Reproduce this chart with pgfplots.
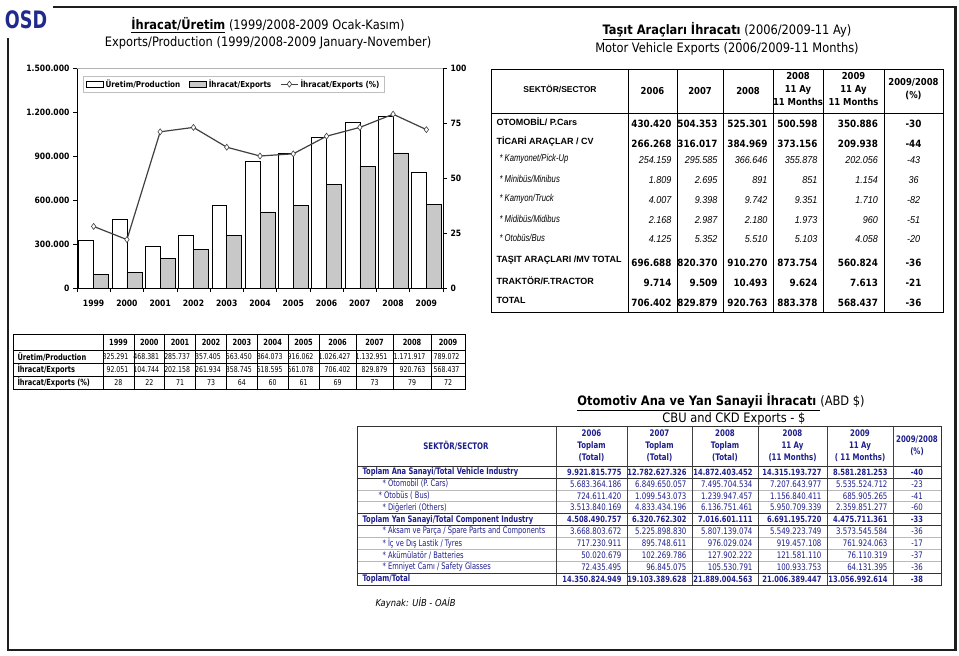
\documentclass[border=0pt]{standalone}
\usepackage{fontspec}
\usepackage{graphicx}
\usepackage{pgfplots}
\pgfplotsset{compat=1.18}
\setmainfont{DejaVu Sans}
\newfontfamily\tah[FakeStretch=0.88]{DejaVu Sans}
\newfontfamily\tahn[FakeStretch=0.78]{DejaVu Sans}
\newfontfamily\tahl[FakeStretch=0.745]{DejaVu Sans}
\newfontfamily\ari{Liberation Sans}
\newfontfamily\arin[FakeStretch=0.77]{Liberation Sans}
\newfontfamily\arii[FakeStretch=0.9]{Liberation Sans}
\definecolor{barg}{RGB}{200,200,200}
\definecolor{linec}{RGB}{64,64,64}
\definecolor{navy}{RGB}{30,30,140}
\definecolor{logob}{RGB}{30,42,140}
\definecolor{framec}{RGB}{30,30,30}

% top right table rows
\newcommand\tbold[8]{%
  \node[anchor=west,font=\ari\bfseries\fontsize{9}{10}\selectfont] at (493,#1-1.5) {#2};
  \node[anchor=east,font=\tah\bfseries\fontsize{10}{12}\selectfont] at (675,#1+0.5) {#3};
  \node[anchor=east,font=\tah\bfseries\fontsize{10}{12}\selectfont] at (721,#1+0.5) {#4};
  \node[anchor=east,font=\tah\bfseries\fontsize{10}{12}\selectfont] at (771,#1+0.5) {#5};
  \node[anchor=east,font=\tah\bfseries\fontsize{10}{12}\selectfont] at (821,#1+0.5) {#6};
  \node[anchor=east,font=\tah\bfseries\fontsize{10}{12}\selectfont] at (881.5,#1+0.5) {#7};
  \node[font=\tah\bfseries\fontsize{10}{12}\selectfont] at (913.5,#1+0.5) {#8};}
\newcommand\tital[8]{%
  \node[anchor=west,font=\arin\itshape\fontsize{10}{11}\selectfont] at (496,#1-4) {#2};
  \node[anchor=east,font=\arii\itshape\fontsize{10}{11}\selectfont] at (675,#1-3) {#3};
  \node[anchor=east,font=\arii\itshape\fontsize{10}{11}\selectfont] at (721,#1-3) {#4};
  \node[anchor=east,font=\arii\itshape\fontsize{10}{11}\selectfont] at (771,#1-3) {#5};
  \node[anchor=east,font=\arii\itshape\fontsize{10}{11}\selectfont] at (821,#1-3) {#6};
  \node[anchor=east,font=\arii\itshape\fontsize{10}{11}\selectfont] at (881.5,#1-3) {#7};
  \node[font=\arii\itshape\fontsize{10}{11}\selectfont] at (913.5,#1-3) {#8};}
% bottom right table rows
\newcommand\cbold[8]{%
  \node[anchor=west,font=\tahl\bfseries\fontsize{9}{10}\selectfont] at (359,#1) {#2};
  \node[anchor=east,font=\tahn\bfseries\fontsize{8.6}{10}\selectfont] at (625,#1) {#3};
  \node[anchor=east,font=\tahn\bfseries\fontsize{8.6}{10}\selectfont] at (690,#1) {#4};
  \node[anchor=east,font=\tahn\bfseries\fontsize{8.6}{10}\selectfont] at (756,#1) {#5};
  \node[anchor=east,font=\tahn\bfseries\fontsize{8.6}{10}\selectfont] at (825,#1) {#6};
  \node[anchor=east,font=\tahn\bfseries\fontsize{8.6}{10}\selectfont] at (891,#1) {#7};
  \node[font=\tahn\bfseries\fontsize{8.6}{10}\selectfont] at (917,#1) {#8};}
\newcommand\creg[9]{%
  \node[anchor=west,font=\tahl\fontsize{9}{10}\selectfont] at (#2,#1) {#3};
  \node[anchor=east,font=\tahn\fontsize{9}{10}\selectfont] at (625,#1) {#4};
  \node[anchor=east,font=\tahn\fontsize{9}{10}\selectfont] at (690,#1) {#5};
  \node[anchor=east,font=\tahn\fontsize{9}{10}\selectfont] at (756,#1) {#6};
  \node[anchor=east,font=\tahn\fontsize{9}{10}\selectfont] at (825,#1) {#7};
  \node[anchor=east,font=\tahn\fontsize{9}{10}\selectfont] at (891,#1) {#8};
  \node[font=\tahn\fontsize{9}{10}\selectfont] at (917,#1) {#9};}

\begin{document}
\begin{tikzpicture}
\useasboundingbox (0,0) rectangle (959pt,-656pt);

\begin{scope}[x=1pt,y=-1pt]
% frame
\draw[line width=2.6pt, framec] (53,7) -- (955.5,7) -- (955.5,650) -- (8,650) -- (8,38);
% logo
\node[text=logob, font=\tah\bfseries\fontsize{20}{20}\selectfont] at (26,20) {\scalebox{1.0}[1.2]{OSD}};

% chart titles
\node[font=\tah\fontsize{13}{15}\selectfont] at (268,25) {\underline{\textbf{İhracat/Üretim}} (1999/2008-2009 Ocak-Kasım)};
\node[font=\tah\fontsize{13}{15}\selectfont] at (268,43) {Exports/Production (1999/2008-2009 January-November)};

% ---- top right table
\node[font=\tah\fontsize{13}{15}\selectfont] at (727,31) {\underline{\textbf{Taşıt Araçları İhracatı}} (2006/2009-11 Ay)};
\node[font=\tah\fontsize{13}{15}\selectfont] at (727,49) {Motor Vehicle Exports (2006/2009-11 Months)};
\draw[line width=0.8pt] (491,69) rectangle (943,312);
\draw[line width=0.8pt] (491,113) -- (943,113);
\foreach \x in {628,677,723,773,823,884} \draw[line width=0.8pt] (\x,69) -- (\x,312);
\node[font=\ari\bfseries\fontsize{8.5}{10}\selectfont] at (560,89) {SEKTÖR/SECTOR};
\begin{scope}[every node/.style={font=\tah\bfseries\fontsize{9.6}{13}\selectfont, align=center}]
\node at (652.5,91) {2006};
\node at (700,91) {2007};
\node at (748,91) {2008};
\node at (798,89) {2008\\11 Ay\\11 Months};
\node at (853.5,89) {2009\\11 Ay\\11 Months};
\node at (913.5,89) {2009/2008\\(\%)};
\end{scope}
\tbold{123}{OTOMOBİL/ P.Cars}{430.420}{504.353}{525.301}{500.598}{350.886}{-30}
\tbold{143}{TİCARİ ARAÇLAR / CV}{266.268}{316.017}{384.969}{373.156}{209.938}{-44}
\tital{163}{* Kamyonet/Pick-Up}{254.159}{295.585}{366.646}{355.878}{202.056}{-43}
\tital{183}{* Minibüs/Minibus}{1.809}{2.695}{891}{851}{1.154}{36}
\tital{203}{* Kamyon/Truck}{4.007}{9.398}{9.742}{9.351}{1.710}{-82}
\tital{223}{* Midibüs/Midibus}{2.168}{2.987}{2.180}{1.973}{960}{-51}
\tital{242}{* Otobüs/Bus}{4.125}{5.352}{5.510}{5.103}{4.058}{-20}
\tbold{262}{TAŞIT ARAÇLARI /MV TOTAL}{696.688}{820.370}{910.270}{873.754}{560.824}{-36}
\tbold{282}{TRAKTÖR/F.TRACTOR}{9.714}{9.509}{10.493}{9.624}{7.613}{-21}
\tbold{302}{TOTAL}{706.402}{829.879}{920.763}{883.378}{568.437}{-36}

% ---- bottom left table
\draw[line width=0.5pt] (13,350) -- (465,350);
\draw[line width=0.5pt] (13,363) -- (465,363);
\draw[line width=0.5pt] (13,376) -- (465,376);
\foreach \x in {103,133.86,164.71,195.57,226.43,257.29,288.14,319,356,393,431} \draw[line width=0.5pt] (\x,334) -- (\x,389);
\draw[line width=0.9pt] (13,334) rectangle (465,389);
\begin{scope}[every node/.style={font=\tahn\bfseries\fontsize{8.5}{10}\selectfont, anchor=west}]
\node at (14,356.5) {Üretim/Production};
\node at (14,369.5) {İhracat/Exports};
\node at (14,382.5) {İhracat/Exports (\%)};
\end{scope}
\foreach \c/\r/\yr/\p/\e/\q in {118.4/131.9/1999/325.291/92.051/28, 149.3/162.7/2000/468.381/104.744/22,
  180.1/193.6/2001/285.737/202.158/71, 211.0/224.4/2002/357.405/261.934/73, 241.9/255.3/2003/563.450/358.745/64,
  272.7/286.1/2004/864.073/518.595/60, 303.6/317/2005/916.062/561.078/61, 337.5/354/2006/1.026.427/706.402/69,
  374.5/391/2007/1.132.951/829.879/73, 412/429/2008/1.171.917/920.763/79, 448/463/2009/789.072/568.437/72}{
  \node[font=\tahn\bfseries\fontsize{8.5}{10}\selectfont] at (\c,342.5) {\yr};
  \node[anchor=east, font=\tahn\fontsize{8}{10}\selectfont] at (\r,356.5) {\p};
  \node[anchor=east, font=\tahn\fontsize{8}{10}\selectfont] at (\r,369.5) {\e};
  \node[font=\tahn\fontsize{8}{10}\selectfont] at (\c,382.5) {\q};
}

% ---- bottom right table
\node[font=\tah\fontsize{13}{15}\selectfont] at (721,402) {\underline{\textbf{Otomotiv Ana ve Yan Sanayii İhracatı }}(ABD \$)};
\node[font=\tah\fontsize{13}{15}\selectfont] at (734,418.5) {CBU and CKD Exports - \$};
\foreach \k in {2,3,6,7,8} \draw[gray!55, line width=0.5pt] (357,466+11.9*\k) -- (941,466+11.9*\k);
\foreach \yy in {466,477.9,513.6,525.5,573.1} \draw[gray!40!black, line width=0.8pt] (357,\yy) -- (941,\yy);
\foreach \x in {556,627,692,758,827,893} \draw[gray!50!black, line width=0.6pt] (\x,426) -- (\x,585);
\draw[gray!40!black, line width=0.9pt] (357,426) rectangle (941,585);
\begin{scope}[every node/.style={text=navy, font=\tahn\bfseries\fontsize{9}{12}\selectfont, align=center}]
\node at (456,446) {SEKTÖR/SECTOR};
\node at (591.5,446) {2006\\Toplam\\(Total)};
\node at (659.5,446) {2007\\Toplam\\(Total)};
\node at (725,446) {2008\\Toplam\\(Total)};
\node at (792.5,446) {2008\\11 Ay\\(11 Months)};
\node at (860,446) {2009\\11 Ay\\( 11 Months)};
\node at (917,446) {2009/2008\\(\%)};
\end{scope}
\begin{scope}[every node/.append style={text=navy}]
\cbold{472}{Toplam Ana Sanayi/Total Vehicle Industry}{9.921.815.775}{12.782.627.326}{14.872.403.452}{14.315.193.727}{8.581.281.253}{-40}
\creg{483.9}{379}{* Otomobil (P. Cars)}{5.683.364.186}{6.849.650.057}{7.495.704.534}{7.207.643.977}{5.535.524.712}{-23}
\creg{495.8}{375}{* Otobüs ( Bus)}{724.611.420}{1.099.543.073}{1.239.947.457}{1.156.840.411}{685.905.265}{-41}
\creg{507.7}{379}{* Diğerleri (Others)}{3.513.840.169}{4.833.434.196}{6.136.751.461}{5.950.709.339}{2.359.851.277}{-60}
\cbold{519.6}{Toplam Yan Sanayi/Total Component Industry}{4.508.490.757}{6.320.762.302}{7.016.601.111}{6.691.195.720}{4.475.711.361}{-33}
\creg{531.5}{379}{* Aksam ve Parça / Spare Parts and Components}{3.668.803.672}{5.225.898.830}{5.807.139.074}{5.549.223.749}{3.573.545.584}{-36}
\creg{543.4}{379}{* İç ve Dış Lastik / Tyres}{717.230.911}{895.748.611}{976.029.024}{919.457.108}{761.924.063}{-17}
\creg{555.3}{379}{* Akümülatör / Batteries}{50.020.679}{102.269.786}{127.902.222}{121.581.110}{76.110.319}{-37}
\creg{567.2}{379}{* Emniyet Camı / Safety Glasses}{72.435.495}{96.845.075}{105.530.791}{100.933.753}{64.131.395}{-36}
\cbold{579.1}{Toplam/Total}{14.350.824.949}{19.103.389.628}{21.889.004.563}{21.006.389.447}{13.056.992.614}{-38}
\end{scope}
\node[anchor=west, font=\tah\itshape\fontsize{9.5}{11}\selectfont] at (372,603) {Kaynak: UİB - OAİB};
\end{scope}

% ---- chart: bars on left axis
\begin{axis}[
  at={(77pt,-288pt)}, anchor=south west,
  width=366pt, height=220pt, scale only axis,
  xmin=-0.5, xmax=10.5, ymin=0, ymax=1500000,
  axis x line*=bottom, axis y line*=left,
  axis line style={-, black, line width=0.8pt},
  xtick={0,...,10},
  xticklabels={1999,2000,2001,2002,2003,2004,2005,2006,2007,2008,2009},
  minor xtick={-0.5,0.5,...,10.5},
  major x tick style={draw=none},
  xticklabel style={yshift=-4.5pt},
  ytick={0,300000,600000,900000,1200000,1500000},
  yticklabels={0,300.000,600.000,900.000,1.200.000,1.500.000},
  scaled y ticks=false,
  tick align=outside, major tick length=4pt, minor tick length=4pt,
  tick style={black, line width=0.6pt},
  ticklabel style={font=\tah\bfseries\fontsize{8.7}{10}\selectfont},
  clip=false,
]
\addplot[ybar, bar width=0.45, bar shift=-0.225, draw=black, fill=white, line width=0.5pt]
  coordinates {(0,325291)(1,468381)(2,285737)(3,357405)(4,563450)(5,864073)(6,916062)(7,1026427)(8,1132951)(9,1171917)(10,789072)};
\addplot[ybar, bar width=0.45, bar shift=0.225, draw=black, fill=barg, line width=0.5pt]
  coordinates {(0,92051)(1,104744)(2,202158)(3,261934)(4,358745)(5,518595)(6,561078)(7,706402)(8,829879)(9,920763)(10,568437)};
\draw[gray!60, line width=0.6pt] (rel axis cs:0,1) -- (rel axis cs:1,1);
\end{axis}

% ---- chart: share line on right axis
\begin{axis}[
  at={(77pt,-288pt)}, anchor=south west,
  width=366pt, height=220pt, scale only axis,
  xmin=-0.5, xmax=10.5, ymin=0, ymax=100,
  axis x line=none, axis y line*=right,
  axis line style={-, black, line width=0.8pt},
  ytick={0,25,50,75,100},
  yticklabels={0,25,50,75,100},
  tick align=outside, major tick length=4pt,
  tick style={black, line width=0.6pt},
  ticklabel style={font=\tah\bfseries\fontsize{8.7}{10}\selectfont},
  legend style={at={(axis description cs:0.016,0.964)}, anchor=north west,
    draw=gray!50, font=\tah\bfseries\fontsize{8.2}{10}\selectfont,
    legend columns=3, inner xsep=3pt, inner ysep=1.5pt,
    /tikz/every even column/.append style={column sep=7pt}},
  legend cell align=left,
  clip=false,
]
\addlegendimage{area legend, draw=black, fill=white}
\addlegendimage{area legend, draw=black, fill=barg}
\addplot[linec, line width=1.2pt, mark=diamond*, mark size=3pt,
  mark options={fill=white, draw=linec, line width=0.6pt}]
  coordinates {(0,28)(1,22)(2,71)(3,73)(4,64)(5,60)(6,61)(7,69)(8,73)(9,79)(10,72)};
\legend{Üretim/Production, İhracat/Exports, İhracat/Exports (\%)}
\end{axis}
\end{tikzpicture}
\end{document}
